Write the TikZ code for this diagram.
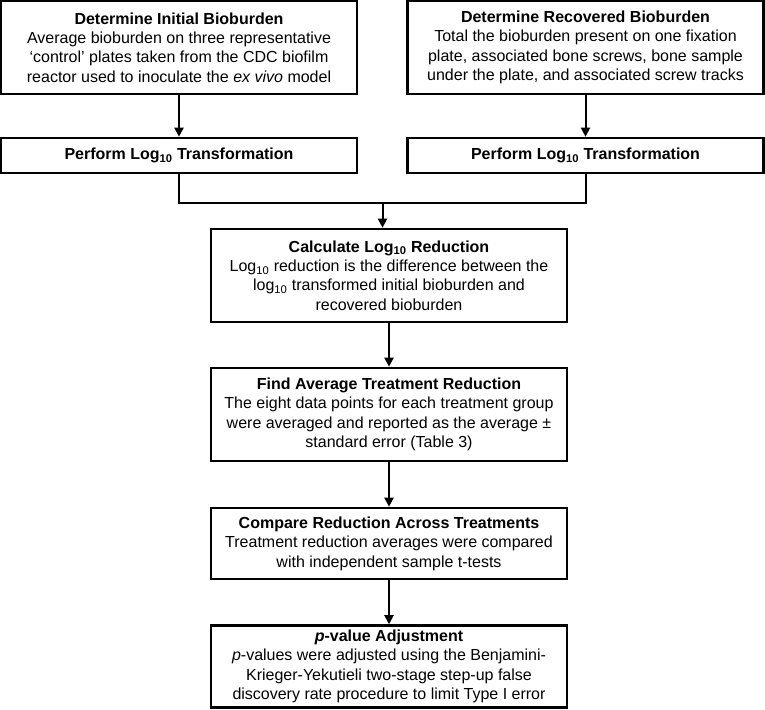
\documentclass[tikz,border=0pt]{standalone}
\usepackage{fontspec}
\setmainfont{Liberation Sans}
\usepackage{tikz}
\usetikzlibrary{arrows.meta,calc,positioning}

\begin{document}
\begin{tikzpicture}[x=1pt, y=-1pt]

\tikzset{stepbox/.style={draw=black,line width=2.6pt,align=center,inner sep=0pt,minimum width=356pt,font=\fontsize{16}{19.4}\selectfont},
link/.style={line width=2pt,-{Triangle[length=9pt,width=9pt]}},
mergeline/.style={line width=2pt}}

\useasboundingbox (0,0) rectangle (765,709);

% Nodes
\node[stepbox,minimum height=93pt] (init) at (179,47.5) {\textbf{Determine Initial Bioburden}\\Average bioburden on three representative\\‘control’ plates taken from the CDC biofilm\\reactor used to inoculate the \textit{ex vivo} model};
\node[stepbox,minimum height=93pt] (recov) at (585.5,47.5) {\textbf{Determine Recovered Bioburden}\\Total the bioburden present on one fixation\\plate, associated bone screws, bone sample\\under the plate, and associated screw tracks};
\node[stepbox,minimum height=35pt] (logA) at (179,155.5) {\textbf{Perform Log\textsubscript{10} Transformation}};
\node[stepbox,minimum height=35pt] (logB) at (585.5,155.5) {\textbf{Perform Log\textsubscript{10} Transformation}};
\coordinate (merge) at (382.5,203);
\node[stepbox,minimum height=93pt] (calc) at (389,275.5) {\textbf{Calculate Log\textsubscript{10} Reduction}\\Log\textsubscript{10} reduction is the difference between the\\log\textsubscript{10} transformed initial bioburden and\\recovered bioburden};
\node[stepbox,minimum height=93pt] (avg) at (389,414.5) {\textbf{Find Average Treatment Reduction}\\The eight data points for each treatment group\\were averaged and reported as the average ±\\standard error (Table 3)};
\node[stepbox,minimum height=71pt] (comp) at (389,543.5) {\textbf{Compare Reduction Across Treatments}\\Treatment reduction averages were compared\\with independent sample t-tests};
\node[stepbox,minimum height=82pt] (pval) at (389,666.5) {\textbf{\textit{p}-value Adjustment}\\\textit{p}-values were adjusted using the Benjamini-\\Krieger-Yekutieli two-stage step-up false\\discovery rate procedure to limit Type I error};

% Connectors
\draw[link] (init) -- (logA);
\draw[link] (recov) -- (logB);
\draw[mergeline] (logA.south) -- (logA.south |- merge) -- (logB.south |- merge) -- (logB.south);
\draw[link] (merge) -- (merge |- calc.north);
\draw[link] (calc) -- (avg);
\draw[link] (avg) -- (comp);
\draw[link] (comp) -- (pval);

\end{tikzpicture}
\end{document}
